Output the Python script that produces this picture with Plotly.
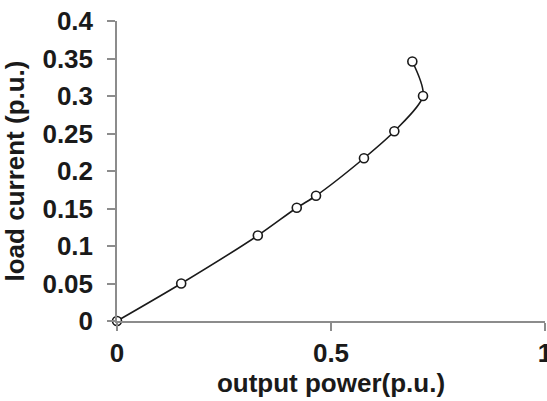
import plotly.graph_objects as go

# Load current versus output power (per-unit)
output_power = [0.0, 0.15, 0.329, 0.42, 0.465, 0.577, 0.648, 0.715, 0.690]
load_current = [0.0, 0.050, 0.114, 0.151, 0.167, 0.217, 0.253, 0.300, 0.346]

x_ticks = [0, 0.5, 1]
x_tick_labels = ["0", "0.5", "1"]
y_ticks = [0, 0.05, 0.1, 0.15, 0.2, 0.25, 0.3, 0.35, 0.4]
y_tick_labels = ["0", "0.05", "0.1", "0.15", "0.2", "0.25", "0.3", "0.35", "0.4"]

font_family = "Liberation Sans, Arial, sans-serif"
text_color = "#1a1a1a"
axis_color = "#8c8c8c"
font_size = 26

fig = go.Figure(
    go.Scatter(
        x=output_power,
        y=load_current,
        mode="lines+markers",
        line=dict(color="#1a1a1a", width=1.6, shape="spline", smoothing=0.8),
        marker=dict(size=9, color="white", line=dict(color="#1a1a1a", width=1.6)),
        cliponaxis=False,
        showlegend=False,
    )
)

axis_common = dict(
    showgrid=False,
    zeroline=False,
    showline=True,
    linecolor=axis_color,
    linewidth=1.5,
    ticks="outside",
    ticklen=8,
    tickwidth=1.5,
    tickcolor=axis_color,
    ticklabeloverflow="allow",
    automargin=False,
    tickfont=dict(family=font_family, size=font_size, color=text_color, weight="bold"),
)

fig.update_xaxes(
    range=[0, 1],
    tickvals=x_ticks,
    ticktext=x_tick_labels,
    title=dict(
        text="output power(p.u.)",
        font=dict(family=font_family, size=font_size, color=text_color, weight="bold"),
        standoff=2,
    ),
    **axis_common,
)
fig.update_yaxes(
    range=[0, 0.4],
    tickvals=y_ticks,
    ticktext=y_tick_labels,
    ticklabelstandoff=9,
    title=dict(
        text="load current (p.u.)",
        font=dict(family=font_family, size=font_size, color=text_color, weight="bold"),
        standoff=10,
    ),
    **axis_common,
)

fig.update_layout(
    width=547,
    height=401,
    margin=dict(l=117, r=2, t=21, b=80),
    paper_bgcolor="white",
    plot_bgcolor="white",
)

fig.write_html("out.html")
